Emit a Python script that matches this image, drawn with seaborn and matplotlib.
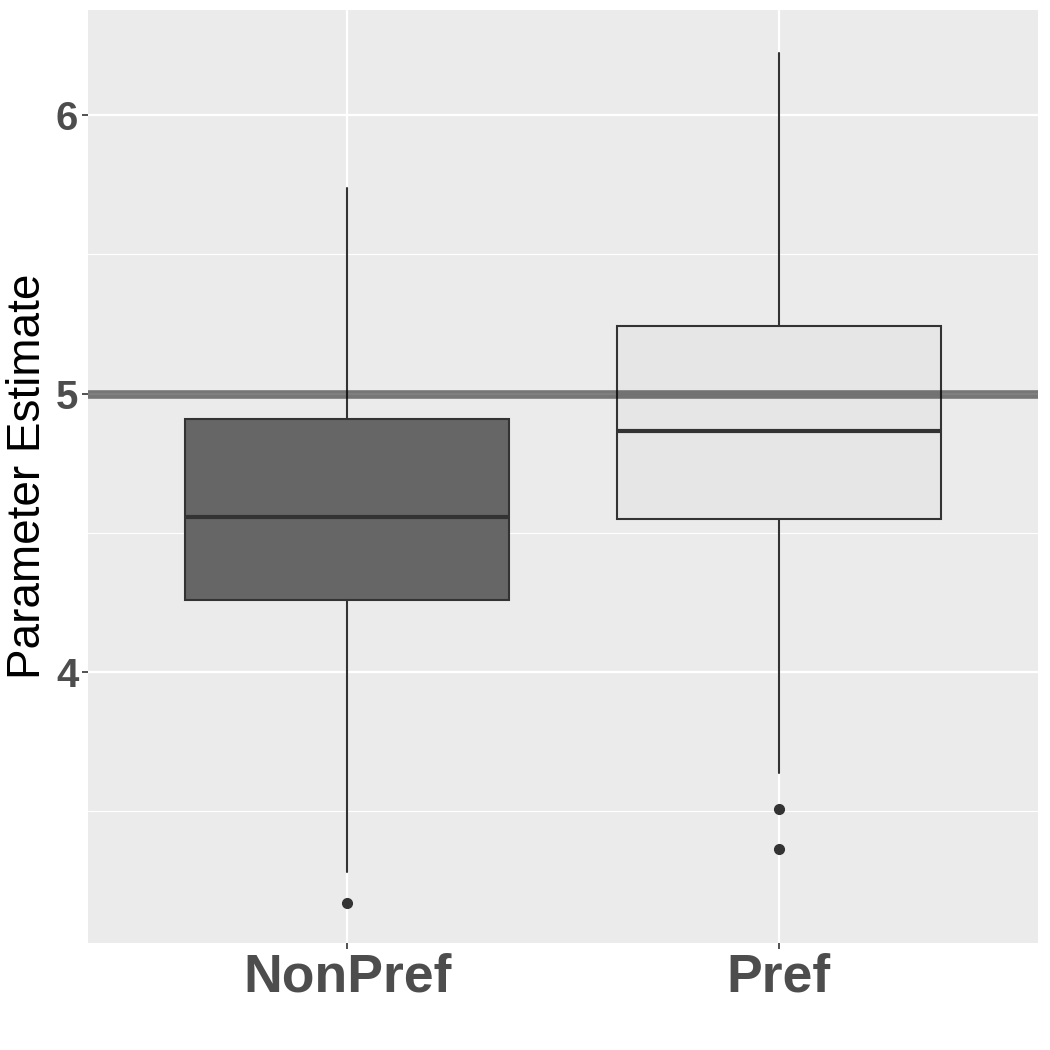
import seaborn as sns
import matplotlib.pyplot as plt
from matplotlib.ticker import MultipleLocator

# values
groups = ["NonPref", "Pref"]
whisker_low = [3.282, 3.637]
q1 = [4.257, 4.548]
median = [4.555, 4.864]
q3 = [4.907, 5.241]
whisker_high = [5.738, 6.223]
outliers = [[3.171], [3.508, 3.364]]
fills = ["#666666", "#e6e6e6"]
ref_value = 5.0

sns.set_theme(style="darkgrid", rc={
    "axes.facecolor": "#ebebeb",
    "grid.color": "white",
    "figure.facecolor": "white",
})
plt.rcParams["font.family"] = ["Liberation Sans", "DejaVu Sans"]

fig = plt.figure(figsize=(10.5, 10.5), dpi=100)
ax = fig.add_axes([88 / 1050, 1 - 943 / 1050, 950 / 1050, 933 / 1050])

stats = []
for i, g in enumerate(groups):
    stats.append({
        "label": g, "whislo": whisker_low[i], "q1": q1[i], "med": median[i],
        "q3": q3[i], "whishi": whisker_high[i], "fliers": outliers[i],
    })

bp = ax.bxp(
    stats, positions=[1, 2], widths=0.75, patch_artist=True, showcaps=False,
    boxprops=dict(edgecolor="#333333", linewidth=1.5),
    medianprops=dict(color="#333333", linewidth=3),
    whiskerprops=dict(color="#333333", linewidth=1.5),
    flierprops=dict(marker="o", markerfacecolor="#333333", markeredgecolor="#333333",
                    markersize=7),
    zorder=3,
)
for patch, c in zip(bp["boxes"], fills):
    patch.set_facecolor(c)

ax.axhline(ref_value, color="black", alpha=0.5, linewidth=6.2, zorder=4)

ax.set_xlim(0.4, 2.6)
ax.set_ylim(3.027, 6.377)
ax.set_xticks([1, 2])
ax.set_xticklabels(groups)
ax.yaxis.set_major_locator(MultipleLocator(1))
ax.yaxis.set_minor_locator(MultipleLocator(0.5))
ax.grid(which="major", color="white", linewidth=1.6)
ax.grid(which="minor", axis="y", color="white", linewidth=0.8)
ax.set_axisbelow(True)
for s in ax.spines.values():
    s.set_visible(False)

ax.tick_params(axis="both", which="major", length=4, width=1.2, color="#333333",
               left=True, bottom=True)
ax.tick_params(axis="y", which="minor", length=0)
ax.tick_params(axis="y", labelsize=29, labelcolor="#4d4d4d", pad=3)
ax.tick_params(axis="x", labelsize=38.5, labelcolor="#4d4d4d", pad=3)
for lab in ax.get_xticklabels() + ax.get_yticklabels():
    lab.set_fontweight("bold")

ax.set_xlabel("")
ax.set_ylabel("Parameter Estimate", fontsize=33, color="black", labelpad=4)

fig.savefig("out.png", dpi=100)
